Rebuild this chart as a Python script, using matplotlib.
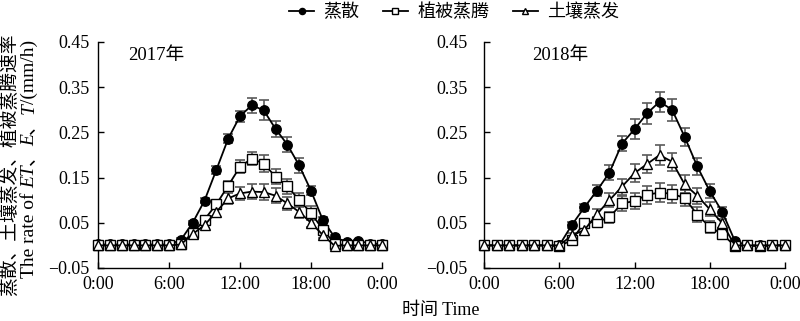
import matplotlib
matplotlib.use("Agg")
import matplotlib.pyplot as plt

SERIF = ["Liberation Serif", "Noto Sans CJK SC"]
CJK = ["Noto Sans CJK SC", "Liberation Serif"]
plt.rcParams["font.family"] = SERIF
plt.rcParams["font.size"] = 13

# -- data --
hours = list(range(25))
tick_pos = [0, 6, 12, 18, 24]
tick_labels = ["0:00", "6:00", "12:00", "18:00", "0:00"]
y_ticks = [-0.05, 0.05, 0.15, 0.25, 0.35, 0.45]
labels = ["蒸散", "植被蒸腾", "土壤蒸发"]

et_2017 = [0.002, 0.002, 0.002, 0.002, 0.002, 0.002, 0.002, 0.012, 0.050, 0.099,
           0.167, 0.236, 0.286, 0.310, 0.299, 0.258, 0.223, 0.177, 0.121, 0.056,
           0.018, 0.008, 0.010, 0.004, 0.004]
t_2017 = [0.0, 0.0, 0.0, 0.0, 0.0, 0.0, 0.0, 0.004, 0.027, 0.057,
          0.091, 0.132, 0.174, 0.192, 0.181, 0.152, 0.131, 0.100, 0.072, 0.035,
          0.004, 0.0, 0.0, 0.0, 0.0]
e_2017 = [0.0, 0.0, 0.0, 0.0, 0.0, 0.0, 0.0, 0.002, 0.025, 0.045,
          0.074, 0.104, 0.115, 0.119, 0.118, 0.110, 0.093, 0.074, 0.050, 0.023,
          -0.001, 0.0, 0.0, 0.0, 0.0]
et_2017_err = [0, 0, 0, 0, 0, 0, 0, 0.004, 0.005, 0.006,
               0.008, 0.010, 0.012, 0.016, 0.022, 0.018, 0.017, 0.016, 0.010, 0.007,
               0.004, 0.003, 0.003, 0, 0]
t_2017_err = [0, 0, 0, 0, 0, 0, 0, 0.003, 0.005, 0.007,
              0.009, 0.011, 0.014, 0.015, 0.018, 0.016, 0.017, 0.016, 0.015, 0.010,
              0.004, 0, 0, 0, 0]
e_2017_err = [0, 0, 0, 0, 0, 0, 0, 0.003, 0.005, 0.006,
              0.008, 0.012, 0.015, 0.016, 0.017, 0.016, 0.014, 0.013, 0.010, 0.007,
              0.003, 0, 0, 0, 0]

et_2018 = [0.0, 0.0, 0.0, 0.0, 0.0, 0.0, 0.0, 0.045, 0.084, 0.121,
           0.161, 0.225, 0.257, 0.292, 0.318, 0.300, 0.240, 0.175, 0.120, 0.074,
           0.010, 0.0, 0.0, 0.0, 0.0]
t_2018 = [0.0, 0.0, 0.0, 0.0, 0.0, 0.0, -0.002, 0.012, 0.050, 0.052,
          0.062, 0.093, 0.098, 0.112, 0.117, 0.114, 0.105, 0.068, 0.041, 0.025,
          -0.001, 0.0, -0.002, 0.0, 0.0]
e_2018 = [0.0, 0.0, 0.0, 0.0, 0.0, 0.0, 0.0, 0.022, 0.034, 0.069,
          0.100, 0.130, 0.160, 0.180, 0.200, 0.185, 0.135, 0.110, 0.080, 0.049,
          0.0, 0.0, 0.0, 0.0, 0.0]
et_2018_err = [0, 0, 0, 0, 0, 0, 0, 0.006, 0.008, 0.012,
               0.017, 0.017, 0.022, 0.024, 0.022, 0.024, 0.020, 0.019, 0.015, 0.010,
               0.004, 0, 0, 0, 0]
t_2018_err = [0, 0, 0, 0, 0, 0, 0, 0.004, 0.008, 0.010,
              0.012, 0.016, 0.018, 0.020, 0.020, 0.020, 0.018, 0.016, 0.014, 0.010,
              0.004, 0, 0, 0, 0]
e_2018_err = [0, 0, 0, 0, 0, 0, 0, 0.005, 0.008, 0.012,
              0.016, 0.018, 0.020, 0.020, 0.022, 0.020, 0.020, 0.018, 0.015, 0.010,
              0.004, 0, 0, 0, 0]

panels = [
    ("2017年", [et_2017, t_2017, e_2017], [et_2017_err, t_2017_err, e_2017_err]),
    ("2018年", [et_2018, t_2018, e_2018], [et_2018_err, t_2018_err, e_2018_err]),
]

styles = [
    dict(marker="o", markerfacecolor="black"),
    dict(marker="s", markerfacecolor="white"),
    dict(marker="^", markerfacecolor="white"),
]

W, H = 800, 321
fig = plt.figure(figsize=(W / 100, H / 100), dpi=100)

# axes boxes in pixels: (left, right), shared top/bottom
boxes = [(98, 382), (484, 785)]
top_px, bottom_px = 42, 268
ypads = [6, 12]
title_x = [0.105, 0.16]

handles = []
for i, ((title, series, errs), (x0, x1)) in enumerate(zip(panels, boxes)):
    ax = fig.add_axes([x0 / W, (H - bottom_px) / H, (x1 - x0) / W,
                       (bottom_px - top_px) / H])
    for y, err, st in zip(series, errs, styles):
        ax.errorbar(hours, y, yerr=err, fmt="none", ecolor="#5a5a5a",
                    elinewidth=1.2, capsize=3.5, capthick=1.2, zorder=2,
                    clip_on=False)
    for y, st, lab in zip(series, styles, labels):
        ln, = ax.plot(hours, y, color="black", linewidth=1.3, markersize=6.8,
                      markeredgecolor="black", markeredgewidth=1.0,
                      clip_on=False, zorder=3, label=lab, **st)
        if i == 0:
            handles.append(ln)

    ax.set_xlim(0, 24)
    ax.set_ylim(-0.05, 0.45)
    ax.set_xticks(tick_pos)
    ax.set_xticklabels(tick_labels)
    ax.set_yticks(y_ticks)
    ax.set_yticklabels([f"{v:.2f}".replace("-", "\u2212") for v in y_ticks])
    for side in ("top", "right"):
        ax.spines[side].set_visible(False)
    for side in ("left", "bottom"):
        ax.spines[side].set_linewidth(1.0)
    ax.tick_params(direction="in", length=4, width=1.0)
    ax.tick_params(axis="y", pad=ypads[i])
    ax.tick_params(axis="x", pad=6)
    ax.text(title_x[i], 0.94, title, transform=ax.transAxes, fontsize=13.5,
            ha="left", va="center", family=SERIF)

fig.legend(handles=handles, labels=labels, loc="center",
           bbox_to_anchor=(454 / W, 1 - 12 / H), ncol=3, frameon=False,
           handlelength=1.4, handletextpad=0.5,
           columnspacing=1.3, markerscale=0.65, prop={"family": CJK, "size": 13})

fig.text(441 / W, 1 - 311 / H, "时间 Time", ha="center", va="center",
         fontsize=13, family=SERIF)

# y label line 1 (Chinese)
fig.text(9.5 / W, 0.4875, "蒸散、土壤蒸发、植被蒸腾速率", rotation=90,
         ha="center", va="center", fontsize=13.5, family=CJK)

# y label line 2, with italic symbols: pieces stacked bottom to top
segments = [("The rate of ", "normal"), ("ET", "italic"), ("、", "normal"),
            ("E", "italic"), ("、", "normal"), ("T", "italic"),
            ("/(mm/h)", "normal")]
renderer = fig.canvas.get_renderer()
pieces = []
lengths = []
for s, style in segments:
    t = fig.text(34 / W, 0, s, rotation=90, rotation_mode="anchor",
                 ha="left", va="baseline", fontsize=14, style=style,
                 family=SERIF)
    bb = t.get_window_extent(renderer=renderer)
    pieces.append(t)
    lengths.append(bb.height)
total = sum(lengths)
ypos = 162 - total / 2
for t, L in zip(pieces, lengths):
    t.set_y(ypos / H)
    ypos += L

fig.savefig("out.png", dpi=100)
